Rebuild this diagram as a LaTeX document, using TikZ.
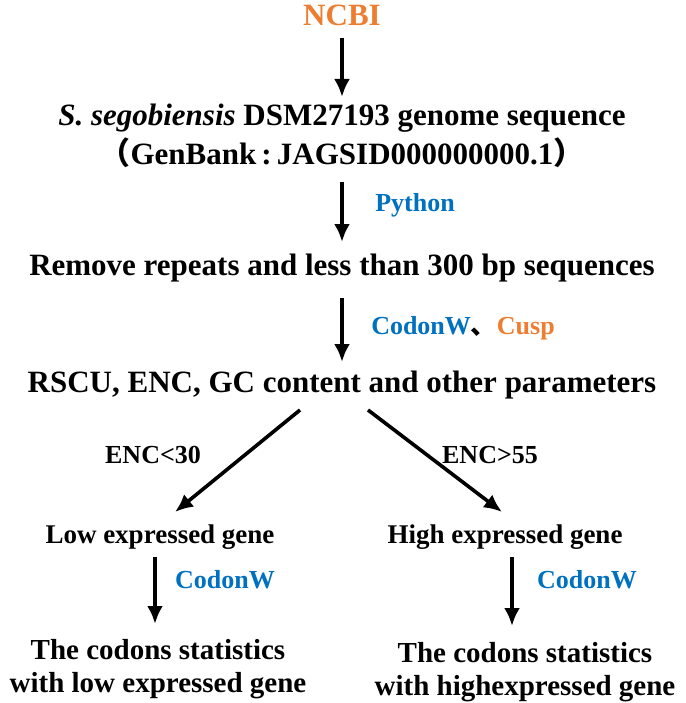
\documentclass[tikz,border=0pt]{standalone}
\usepackage{fontspec}
\setmainfont{Liberation Serif}
\usetikzlibrary{arrows.meta}
\definecolor{orng}{RGB}{237,125,49}
\definecolor{blu}{RGB}{0,112,192}
\begin{document}
\begin{tikzpicture}[x=1pt,y=-1pt,
  txt/.style={font=\bfseries\fontsize{31}{36}\selectfont,inner sep=0pt,align=center},
  mid/.style={txt,font=\bfseries\fontsize{27}{31}\selectfont},
  bot/.style={txt,font=\bfseries\fontsize{29}{34}\selectfont},
  sml/.style={txt,font=\bfseries\fontsize{26}{30}\selectfont},
  lbl/.style={sml,text=blu},
  arr/.style={line width=3.6pt,-{Latex[length=18pt,width=16pt]}}]
\useasboundingbox (0,0) rectangle (685,703);
\node[txt,text=orng] (ncbi) at (342,15) {NCBI};
\node[txt] (s1) at (342,118) {\textit{S. segobiensis} DSM27193 genome sequence};
\node[txt] (s2) at (342,153) {\fontspec{Noto Sans CJK SC}（\fontspec{Liberation Serif}GenBank\,:\,JAGSID000000000.1\fontspec{Noto Sans CJK SC}）};
\node[txt] (rm) at (342,268) {Remove repeats and less than 300 bp sequences};
\node[txt] (rs) at (342,385) {RSCU, ENC, GC content and other parameters};
\node[mid] (low) at (160,537) {Low expressed gene};
\node[mid] (high) at (505,537) {High expressed gene};
\node[bot] (lb) at (158,669) {The codons statistics\\[-1pt]with low expressed gene};
\node[bot] (hb) at (525,672) {The codons statistics\\[-1pt]with highexpressed gene};
\node[lbl] (py) at (415,205) {Python};
\node[sml] (cw) at (463,328) {\textcolor{blu}{CodonW}{\fontspec{Noto Sans CJK SC}、}\textcolor{orng}{Cusp}};
\node[sml] (e30) at (153,455) {ENC<30};
\node[sml] (e55) at (490,455) {ENC>55};
\node[lbl] (cw1) at (225,580) {CodonW};
\node[lbl] (cw2) at (587,580) {CodonW};
\coordinate (a1) at (342,38); \coordinate (a2) at (342,97);
\draw[arr] (a1) -- (a2);
\coordinate (b1) at (342,182); \coordinate (b2) at (342,242);
\draw[arr] (b1) -- (b2);
\coordinate (c1) at (342,298); \coordinate (c2) at (342,362);
\draw[arr] (c1) -- (c2);
\coordinate (d1) at (300,410); \coordinate (d2) at (175,512);
\draw[arr] (d1) -- (d2);
\coordinate (e1) at (368,410); \coordinate (e2) at (502,512);
\draw[arr] (e1) -- (e2);
\coordinate (f1) at (155,557); \coordinate (f2) at (155,624);
\draw[arr] (f1) -- (f2);
\coordinate (g1) at (512,557); \coordinate (g2) at (512,626);
\draw[arr] (g1) -- (g2);
\end{tikzpicture}
\end{document}
